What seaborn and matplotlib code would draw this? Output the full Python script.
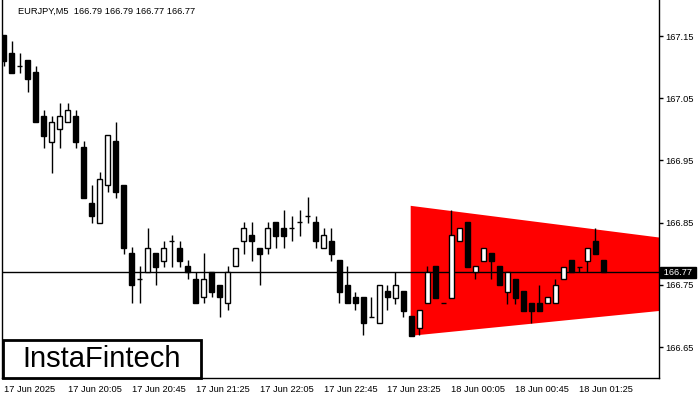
import pandas as pd
import seaborn as sns
import matplotlib.pyplot as plt
from matplotlib.patches import Rectangle
import matplotlib.transforms as mtransforms

symbol = "EURJPY,M5"
last_ohlc = "166.79 166.79 166.77 166.77"
last_price = 166.77

# M5 candles, 17 Jun 19:25 .. 18 Jun 01:40
opens = [167.152, 167.123, 167.101, 167.111, 167.092, 167.021, 166.980, 167.001, 167.011, 167.021,
         166.972, 166.881, 166.850, 166.910, 166.981, 166.911, 166.801, 166.759, 166.770, 166.801,
         166.789, 166.820, 166.810, 166.780, 166.759, 166.730, 166.770, 166.749, 166.720, 166.780,
         166.820, 166.830, 166.810, 166.810, 166.851, 166.841, 166.841, 166.851, 166.861, 166.851,
         166.810, 166.820, 166.790, 166.749, 166.730, 166.730, 166.699, 166.689, 166.740, 166.729,
         166.740, 166.700, 166.680, 166.720, 166.780, 166.720, 166.729, 166.820, 166.851, 166.770,
         166.789, 166.801, 166.780, 166.739, 166.759, 166.740, 166.720, 166.720, 166.720, 166.720,
         166.759, 166.790, 166.779, 166.789, 166.820, 166.790]
highs = [167.152, 167.142, 167.123, 167.111, 167.102, 167.031, 167.021, 167.042, 167.042, 167.031,
         166.981, 166.911, 166.932, 166.991, 167.011, 166.911, 166.811, 166.780, 166.841, 166.801,
         166.820, 166.830, 166.820, 166.790, 166.770, 166.801, 166.770, 166.749, 166.780, 166.810,
         166.851, 166.851, 166.810, 166.851, 166.851, 166.870, 166.861, 166.870, 166.891, 166.861,
         166.841, 166.841, 166.790, 166.780, 166.739, 166.730, 166.730, 166.749, 166.749, 166.770,
         166.740, 166.700, 166.709, 166.780, 166.780, 166.720, 166.870, 166.841, 166.851, 166.780,
         166.810, 166.801, 166.780, 166.770, 166.759, 166.740, 166.720, 166.749, 166.730, 166.759,
         166.779, 166.790, 166.779, 166.810, 166.841, 166.790]
lows = [167.101, 167.091, 167.091, 167.060, 167.011, 166.970, 166.930, 166.970, 167.011, 166.970,
        166.890, 166.850, 166.850, 166.900, 166.890, 166.800, 166.720, 166.720, 166.770, 166.749,
        166.779, 166.779, 166.779, 166.759, 166.720, 166.720, 166.730, 166.699, 166.709, 166.780,
        166.800, 166.789, 166.749, 166.800, 166.810, 166.810, 166.820, 166.829, 166.850, 166.810,
        166.810, 166.789, 166.720, 166.720, 166.709, 166.669, 166.699, 166.689, 166.709, 166.719,
        166.698, 166.668, 166.669, 166.720, 166.729, 166.720, 166.729, 166.820, 166.779, 166.759,
        166.789, 166.759, 166.749, 166.719, 166.719, 166.708, 166.689, 166.708, 166.720, 166.720,
        166.759, 166.770, 166.770, 166.770, 166.800, 166.770]
closes = [167.110, 167.091, 167.101, 167.081, 167.011, 166.990, 167.011, 167.021, 167.031, 166.980,
          166.890, 166.860, 166.920, 166.991, 166.900, 166.810, 166.749, 166.759, 166.810, 166.779,
          166.810, 166.820, 166.789, 166.770, 166.720, 166.759, 166.739, 166.730, 166.770, 166.810,
          166.841, 166.820, 166.800, 166.841, 166.829, 166.829, 166.841, 166.851, 166.861, 166.820,
          166.830, 166.800, 166.739, 166.720, 166.720, 166.689, 166.699, 166.749, 166.730, 166.750,
          166.708, 166.668, 166.709, 166.770, 166.729, 166.720, 166.830, 166.841, 166.779, 166.780,
          166.810, 166.789, 166.749, 166.770, 166.729, 166.708, 166.708, 166.708, 166.730, 166.749,
          166.779, 166.770, 166.779, 166.810, 166.800, 166.770]

time_labels = ["17 Jun 2025", "17 Jun 20:05", "17 Jun 20:45", "17 Jun 21:25", "17 Jun 22:05",
               "17 Jun 22:45", "17 Jun 23:25", "18 Jun 00:05", "18 Jun 00:45", "18 Jun 01:25"]
label_step = 8
price_ticks = [166.65, 166.75, 166.85, 166.95, 167.05, 167.15]

# bearish symmetrical triangle
pattern_x = [50.9, 82.0]
pattern_top = [166.877, 166.826]
pattern_bottom = [166.668, 166.708]

df = pd.DataFrame({"open": opens, "high": highs, "low": lows, "close": closes})
df["x"] = range(len(df))
df["up"] = df["close"] > df["open"]

sns.set_style("white")
plt.rcParams["font.family"] = ["Liberation Sans", "DejaVu Sans"]

fig = plt.figure(figsize=(7, 4), dpi=100)
ax = fig.add_axes([2 / 700, 22 / 400, 657 / 700, 378 / 400])

# pattern
ax.fill(pattern_x + pattern_x[::-1], pattern_top + pattern_bottom[::-1],
        color="#ff0000", lw=0, zorder=1)

# bid line
ax.axhline(last_price, color="black", lw=1, zorder=2)

# wicks + bodies
ax.vlines(df["x"], df["low"], df["high"], color="black", lw=1, zorder=3)
body_lo = df[["open", "close"]].min(axis=1)
body_hi = df[["open", "close"]].max(axis=1)
colors = ["white" if u else "black" for u in df["up"]]
ax.bar(df["x"], body_hi - body_lo, bottom=body_lo, width=0.56, color=colors,
       edgecolor="black", linewidth=1, zorder=4)

ax.set_xlim(-0.19, 81.94)
ax.set_ylim(166.6002, 167.2079)

ax.yaxis.tick_right()
ax.set_yticks(price_ticks)
ax.set_yticklabels([f"{p:.2f}" for p in price_ticks])
ax.set_xticks(range(0, len(df), label_step)[:len(time_labels)])
ax.set_xticklabels(time_labels, ha="left")
ax.tick_params(axis="both", direction="out", length=3, width=1, color="black",
               labelsize=6.7, labelcolor="black")
ax.tick_params(axis="x", pad=2)
ax.tick_params(axis="y", pad=1.5)

for side in ["left", "right", "bottom"]:
    ax.spines[side].set_color("black")
    ax.spines[side].set_linewidth(1)
ax.spines["top"].set_visible(False)

# current price tag
trans = mtransforms.blended_transform_factory(ax.transAxes, ax.transData)
ax.text(1.003, last_price, " 166.77 ", transform=trans, color="white", fontsize=6.7,
        ha="left", va="center", clip_on=False,
        bbox=dict(boxstyle="square,pad=0.1", fc="black", ec="black"),
        zorder=10)

# header
fig.text(18 / 700, 1 - 11 / 400, f"{symbol}  {last_ohlc}", fontsize=6.7, color="black",
         va="center", ha="left")

# logo
ax.add_patch(Rectangle((0.0015, 0.0), 0.3015, 0.1005, transform=ax.transAxes,
                       facecolor="white", edgecolor="black", lw=2, zorder=20,
                       clip_on=False))
ax.text(0.152, 0.05, "InstaFintech", transform=ax.transAxes, fontsize=21,
        ha="center", va="center", color="black", zorder=21)

fig.savefig("out.png", dpi=100)
